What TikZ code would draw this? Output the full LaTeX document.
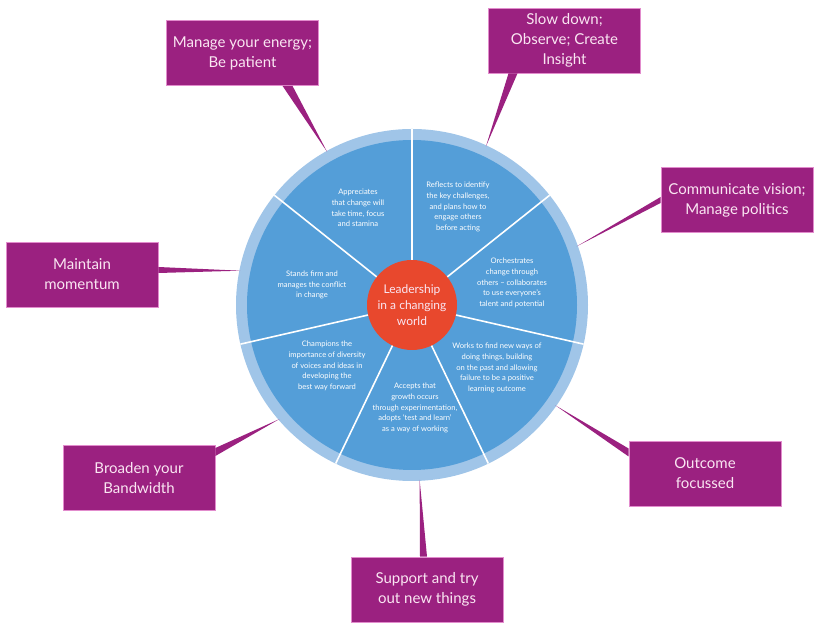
\documentclass[tikz,border=0pt]{standalone}
\usepackage{fontspec}
\setmainfont{Lato}
\usepackage{tikz}
\usetikzlibrary{calc}
\definecolor{plum}{RGB}{155,33,128}
\definecolor{plumedge}{RGB}{226,140,205}
\definecolor{ringblue}{RGB}{160,197,232}
\definecolor{wheelblue}{RGB}{84,158,216}
\definecolor{hubred}{RGB}{232,72,45}
\definecolor{pinktext}{RGB}{250,230,242}
\tikzset{
  themebox/.style={draw=plumedge,line width=0.8pt,fill=plum,text=pinktext,align=center,
    minimum width=152pt,minimum height=65pt,inner sep=2pt,font=\fontsize{15}{20}\selectfont},
  segtext/.style={text=white,align=center,font=\fontsize{7.6}{10.7}\selectfont},
  hubdisc/.style={circle,fill=hubred,minimum size=90pt,inner sep=0pt,text=pinktext,
    align=center,font=\fontsize{12}{15.7}\selectfont},
  spoke/.style={draw=white,line width=1.6pt},
  taper/.style={fill=plum}
}

\begin{document}
\begin{tikzpicture}[x=1pt,y=1pt]
  \useasboundingbox (0,0) rectangle (820,644);
  \coordinate (hub) at (412,339);
  % wheel
  \fill[ringblue] (hub) circle[radius=176];
  \fill[wheelblue] (hub) circle[radius=165];
  \foreach \k in {0,...,6}
    \draw[spoke] (hub) -- ++({90-\k*360/7}:176);
  \node[hubdisc] (centre) at (hub) {Leadership\\in a changing\\world};

  \node[segtext] (patience) at (358,436) {Appreciates\\that change will\\take time, focus\\and stamina};
  \node[segtext] (reflect) at (458,437) {Reflects to identify\\the key challenges,\\and plans how to\\engage others\\before acting};
  \node[segtext] (orchestrate) at (512,361) {Orchestrates\\change through\\others -- collaborates\\to use everyone's\\talent and potential};
  \node[segtext] (newways) at (497,276) {Works to find new ways of\\doing things, building\\on the past and allowing\\failure to be a positive\\learning outcome};
  \node[segtext] (growth) at (415,236) {Accepts that\\growth occurs\\through experimentation,\\adopts `test and learn'\\as a way of working};
  \node[segtext] (diversity) at (327,278) {Champions the\\importance of diversity\\of voices and ideas in\\developing the\\best way forward};
  \node[segtext] (standfirm) at (312,359) {Stands firm and\\manages the conflict\\in change};

  % theme boxes
  \node[themebox] (energy) at (242.5,591) {Manage your energy;\\Be patient};
  \node[themebox] (slowdown) at (564.5,603.5) {Slow down;\\Observe; Create\\Insight};
  \node[themebox] (vision) at (737,444) {Communicate vision;\\Manage politics};
  \node[themebox] (momentum) at (82,369.5) {Maintain\\momentum};
  \node[themebox] (bandwidth) at (139,166) {Broaden your\\Bandwidth};
  \node[themebox] (tryout) at (427,54.5) {Support and try\\out new things};
  \node[themebox] (outcome) at (705,170.5) {Outcome\\focussed};

  % tapered pointers
  \coordinate (tipA) at ($(hub)+(119:175)$);
  \coordinate (tipB) at ($(hub)+(65:175)$);
  \coordinate (tipC) at ($(hub)+(19.6:175)$);
  \coordinate (tipD) at ($(hub)+(168.7:175)$);
  \coordinate (tipE) at ($(hub)+(-139.3:175)$);
  \coordinate (tipF) at ($(hub)+(-87.5:175)$);
  \coordinate (tipG) at ($(hub)+(-35:175)$);
  \fill[taper] ($(energy.south)+(40,0)$) -- ($(energy.south)+(50,0)$) -- (tipA) -- cycle;
  \fill[taper] ($(slowdown.south)+(-56,0)$) -- ($(slowdown.south)+(-47,0)$) -- (tipB) -- cycle;
  \fill[taper] ($(vision.west)+(0,3)$) -- ($(vision.west)+(0,-3)$) -- (tipC) -- cycle;
  \fill[taper] ($(momentum.east)+(0,7.5)$) -- ($(momentum.east)+(0,1.5)$) -- (tipD) -- cycle;
  \fill[taper] ($(bandwidth.east)+(0,30)$) -- ($(bandwidth.east)+(0,22)$) -- (tipE) -- cycle;
  \fill[taper] ($(tryout.north)+(-7,0)$) -- ($(tryout.north)+(0,0)$) -- (tipF) -- cycle;
  \fill[taper] ($(outcome.west)+(0,25)$) -- ($(outcome.west)+(0,17)$) -- (tipG) -- cycle;
\end{tikzpicture}
\end{document}
